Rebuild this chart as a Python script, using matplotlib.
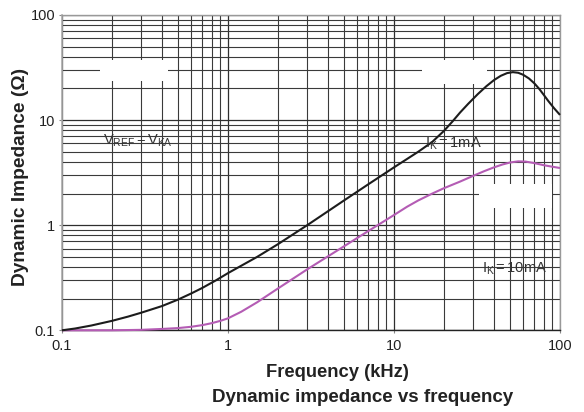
import matplotlib
matplotlib.use('Agg')
import matplotlib.pyplot as plt
from matplotlib.ticker import FixedLocator, FixedFormatter, LogLocator, NullFormatter
from matplotlib.patches import Rectangle

# ---- data ----
freq_1mA = [0.1, 0.12, 0.15, 0.2, 0.25, 0.3, 0.4, 0.5, 0.6, 0.7, 0.85, 1.0, 1.5, 2.0,
            3.0, 5.0, 7.0, 10.0, 14.0, 17.0, 20.0, 22.5, 25.0, 28.0, 32.0, 36.0, 40.0,
            44.0, 48.0, 52.0, 56.0, 60.0, 65.0, 70.0, 75.0, 80.0, 85.0, 92.0, 100.0]
z_1mA = [0.1, 0.104, 0.111, 0.123, 0.135, 0.147, 0.17, 0.196, 0.224, 0.253, 0.3,
         0.35, 0.5, 0.66, 1.0, 1.72, 2.45, 3.55, 5.0, 6.2, 7.9, 9.7, 11.8, 14.3, 17.7,
         21.0, 24.0, 26.4, 28.0, 28.6, 28.2, 27.0, 24.9, 22.4, 19.8, 17.3, 15.2,
         13.0, 11.2]

freq_10mA = [0.1, 0.2, 0.3, 0.4, 0.5, 0.6, 0.7, 0.8, 0.9, 1.0, 1.2, 1.5, 2.0, 3.0,
             5.0, 7.0, 10.0, 12.0, 14.0, 17.0, 20.0, 25.0, 30.0, 35.0, 40.0, 45.0,
             50.0, 56.0, 62.0, 70.0, 80.0, 90.0, 100.0]
z_10mA = [0.1, 0.1, 0.101, 0.103, 0.105, 0.108, 0.112, 0.117, 0.123, 0.13, 0.15,
          0.185, 0.25, 0.38, 0.63, 0.88, 1.25, 1.5, 1.72, 2.0, 2.25, 2.6, 2.95, 3.27,
          3.55, 3.78, 3.95, 4.05, 4.03, 3.9, 3.72, 3.6, 3.5]

x_ticks = [0.1, 1, 10, 100]
x_tick_labels = ['0.1', '1', '10', '100']
y_ticks = [0.1, 1, 10, 100]
y_tick_labels = ['0.1', '1', '10', '100']

plt.rcParams['font.family'] = ['Liberation Sans', 'DejaVu Sans']
plt.rcParams['mathtext.fontset'] = 'custom'
plt.rcParams['mathtext.rm'] = 'Liberation Sans'
plt.rcParams['mathtext.it'] = 'Liberation Sans'

W, H = 584, 412
fig = plt.figure(figsize=(W / 100, H / 100), dpi=100)
x0, x1, ytop, ybot = 62, 560, 15, 330.3
ax = fig.add_axes([x0 / W, 1 - ybot / H, (x1 - x0) / W, (ybot - ytop) / H])
ax.set_xscale('log')
ax.set_yscale('log')

ax.set_axisbelow(True)
ax.grid(which='major', color='#2e2e2e', lw=0.9)
ax.grid(which='minor', color='#3a3a3a', lw=0.8)

ax.plot(freq_10mA, z_10mA, color='#b45cb4', lw=1.5, solid_capstyle='butt',
        solid_joinstyle='round', zorder=3, clip_on=False)
ax.plot(freq_1mA, z_1mA, color='#1c1c1c', lw=1.5, solid_capstyle='butt',
        solid_joinstyle='round', zorder=4, clip_on=False)

ax.set_xlim(0.1, 100)
ax.set_ylim(0.1, 100)

ax.xaxis.set_major_locator(FixedLocator(x_ticks))
ax.xaxis.set_major_formatter(FixedFormatter(x_tick_labels))
ax.yaxis.set_major_locator(FixedLocator(y_ticks))
ax.yaxis.set_major_formatter(FixedFormatter(y_tick_labels))
ax.xaxis.set_minor_locator(LogLocator(base=10, subs=range(2, 10)))
ax.yaxis.set_minor_locator(LogLocator(base=10, subs=range(2, 10)))
ax.xaxis.set_minor_formatter(NullFormatter())
ax.yaxis.set_minor_formatter(NullFormatter())

ax.tick_params(which='major', direction='out', length=2.2, width=0.8, color='#888888',
               labelsize=10.5, labelcolor='#222222')
ax.tick_params(axis='x', which='major', pad=4.0)
ax.tick_params(axis='y', which='major', pad=2.7)
ax.tick_params(which='minor', length=0)

for side, col, lw in [('left', '#aaaaaa', 1.2), ('top', '#999999', 1.0),
                      ('right', '#999999', 1.0), ('bottom', '#222222', 1.0)]:
    ax.spines[side].set_color(col)
    ax.spines[side].set_linewidth(lw)

# white patches present in the reference grid
for (bx0, by0, bx1, by1) in [(100, 60, 168, 81), (422, 60, 487, 84), (479, 184, 552, 208)]:
    fig.add_artist(Rectangle((bx0 / W, 1 - by1 / H), (bx1 - bx0) / W, (by1 - by0) / H,
                             transform=fig.transFigure, facecolor='white',
                             edgecolor='none', zorder=5))

# annotations
def ftext(px, py, s, **kw):
    fig.text(px / W, 1 - py / H, s, **kw)

ann = dict(fontsize=10.5, color='#333333', va='baseline', ha='left', zorder=6)
ftext(103, 145, r'$\mathregular{V_{REF} = V_{KA}}$', **ann)
ftext(425, 148, r'$\mathregular{I_{K} = 1mA}$', **ann)
ftext(482, 272.5, r'$\mathregular{I_{K} = 10mA}$', **ann)

ftext(21, 176.5, 'Dynamic Impedance (Ω)', rotation=90, ha='center', va='center',
      fontsize=13.8, fontweight='bold', color='#222222')
ftext(337.5, 377, 'Frequency (kHz)', ha='center', va='baseline',
      fontsize=13.2, fontweight='bold', color='#222222')
ftext(363, 402, 'Dynamic impedance vs frequency', ha='center', va='baseline',
      fontsize=13.5, fontweight='bold', color='#222222')

fig.savefig('out.png', dpi=100, facecolor='white')
